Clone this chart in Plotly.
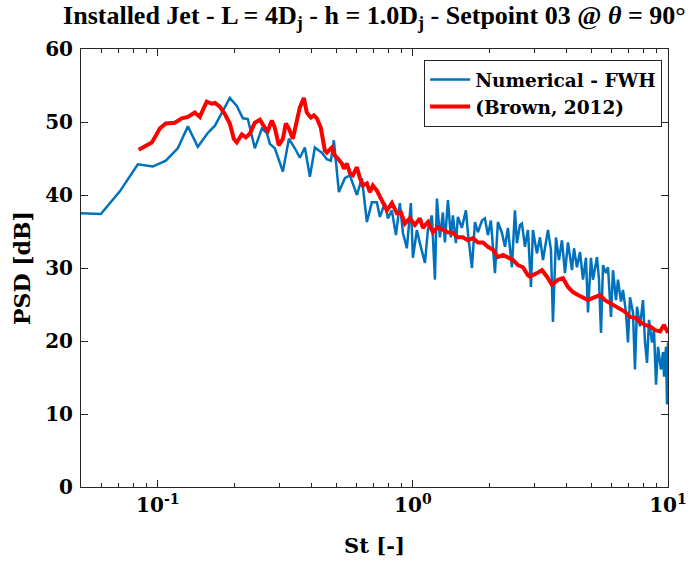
import plotly.graph_objects as go

# Numerical - FWH (blue)
st_num = [0.0499, 0.0598, 0.0710, 0.0835, 0.0956, 0.1075, 0.1198, 0.1312, 0.1435, 0.157,
          0.1675, 0.1916, 0.204, 0.2155, 0.2254, 0.2401, 0.2557, 0.2676, 0.2749, 0.2876,
          0.3093, 0.3265, 0.3446, 0.3605, 0.3772, 0.3946, 0.4128, 0.4396, 0.4600, 0.4769,
          0.4900, 0.5127, 0.5412, 0.5662, 0.6033, 0.6310, 0.6601, 0.6906, 0.7225, 0.7424,
          0.7767, 0.798, 0.827, 0.858, 0.889, 0.914, 0.947, 0.982, 1.0, 1.0368,
          1.0652, 1.1146, 1.145, 1.187, 1.220, 1.242, 1.276, 1.311, 1.335, 1.372,
          1.409, 1.435, 1.474, 1.501, 1.556, 1.614, 1.643, 1.704, 1.751, 1.798,
          1.865, 1.916, 1.968, 2.022, 2.097, 2.154, 2.234, 2.296, 2.358, 2.444,
          2.512, 2.557, 2.628, 2.676, 2.749, 2.825, 2.902, 2.955, 3.063, 3.148,
          3.235, 3.294, 3.384, 3.477, 3.540, 3.638, 3.738, 3.840, 3.946, 4.054,
          4.203, 4.280, 4.397, 4.518, 4.642, 4.769, 4.857, 4.989, 5.081, 5.268,
          5.364, 5.462, 5.562, 5.714, 5.818, 5.977, 6.086, 6.253, 6.367, 6.542,
          6.661, 6.843, 6.968, 7.096, 7.290, 7.423, 7.559, 7.766, 7.980, 8.125,
          8.274, 8.425, 8.656, 8.814, 8.975, 9.138, 9.387, 9.559, 9.645, 9.821,
          9.910, 10.0]
psd_num = [37.5, 37.4, 40.5, 44.2, 43.9, 44.7, 46.4, 49.4, 46.6, 48.5,
           49.5, 53.3, 52.2, 50.5, 50.4, 46.4, 49.1, 48.5, 47.0, 46.4,
           43.2, 47.7, 46.4, 45.1, 46.5, 42.5, 46.5, 45.8, 44.9, 44.7,
           47.5, 40.4, 42.3, 42.7, 40.0, 42.3, 36.3, 39.0, 39.0, 37.0,
           38.9, 36.8, 37.9, 34.5, 38.9, 34.8, 32.7, 38.9, 31.4, 35.2,
           33.4, 30.7, 35.2, 37.2, 28.4, 39.5, 34.2, 37.6, 33.5, 39.3,
           34.2, 37.2, 33.4, 37.0, 35.5, 37.9, 34.8, 30.0, 36.3, 34.9,
           36.5, 36.8, 34.5, 36.5, 29.3, 36.3, 34.8, 32.9, 35.5, 30.1,
           37.9, 33.4, 35.9, 36.1, 32.9, 35.2, 27.4, 35.2, 32.0, 34.2,
           31.1, 32.9, 35.2, 32.5, 22.6, 34.2, 31.1, 33.8, 29.3, 33.5,
           29.7, 32.7, 30.1, 32.2, 28.4, 31.4, 23.9, 31.4, 28.4, 31.5,
           28.4, 21.1, 30.4, 29.3, 30.1, 23.3, 29.7, 25.6, 28.4, 25.4,
           27.0, 23.9, 19.8, 26.0, 23.9, 16.1, 24.7, 22.0, 25.6, 19.8,
           17.0, 22.9, 19.8, 21.5, 14.0, 19.2, 16.1, 18.5, 15.1, 19.2,
           11.3, 19.8]

# (Brown, 2012) (red)
st_exp = [0.0842, 0.0889, 0.0947, 0.0982, 0.1018, 0.1075, 0.1166, 0.1242, 0.1312, 0.1397,
          0.1461, 0.1528, 0.1556, 0.1628, 0.1675, 0.175, 0.1831, 0.1916, 0.1986, 0.204,
          0.2135, 0.2214, 0.2295, 0.2401, 0.2512, 0.2628, 0.2700, 0.2799, 0.2876, 0.2981,
          0.3093, 0.3177, 0.3265, 0.3384, 0.3508, 0.3605, 0.3736, 0.3839, 0.3981, 0.4091,
          0.4203, 0.4356, 0.4517, 0.4600, 0.4812, 0.4944, 0.5080, 0.5267, 0.5363, 0.5510,
          0.5662, 0.5817, 0.6033, 0.6197, 0.6368, 0.6601, 0.6783, 0.6969, 0.7225, 0.7424,
          0.7628, 0.7908, 0.8273, 0.8656, 0.8974, 0.9303, 0.9732, 1.018, 1.0652, 1.0944,
          1.145, 1.198, 1.253, 1.311, 1.372, 1.435, 1.501, 1.570, 1.643, 1.719,
          1.798, 1.882, 1.968, 2.059, 2.154, 2.254, 2.358, 2.467, 2.581, 2.700,
          2.825, 2.877, 3.063, 3.206, 3.354, 3.509, 3.704, 3.874, 4.054, 4.241,
          4.437, 4.642, 4.857, 5.081, 5.412, 5.662, 5.923, 6.197, 6.483, 6.783,
          7.096, 7.423, 7.766, 8.125, 8.501, 8.894, 9.303, 9.645, 10.0]
psd_exp = [46.2, 46.6, 47.2, 48.1, 49.1, 49.8, 49.9, 50.5, 50.7, 51.3,
           50.7, 52.2, 52.8, 52.5, 52.6, 52.1, 51.1, 49.8, 47.7, 47.2,
           48.3, 47.9, 48.4, 49.9, 50.3, 49.2, 48.8, 50.2, 49.2, 46.8,
           47.7, 49.8, 49.1, 47.7, 49.9, 52.0, 53.3, 51.3, 50.6, 50.9,
           50.5, 49.2, 46.1, 45.8, 46.5, 45.4, 45.0, 44.3, 43.6, 44.3,
           43.0, 42.7, 43.8, 42.3, 41.3, 41.6, 40.4, 41.3, 40.6, 39.7,
           39.0, 37.9, 38.9, 37.5, 37.6, 36.1, 36.8, 35.9, 36.8, 35.5,
           36.3, 34.9, 35.6, 35.2, 34.9, 34.8, 34.2, 34.2, 33.8, 34.1,
           33.5, 33.5, 32.9, 32.5, 31.5, 31.8, 31.4, 31.1, 30.4, 30.1,
           29.0, 28.8, 29.3, 29.7, 28.8, 27.7, 28.4, 28.6, 27.4, 26.7,
           26.3, 25.9, 25.6, 25.9, 26.3, 25.6, 25.2, 24.8, 24.3, 24.0,
           23.3, 23.2, 22.6, 22.2, 22.0, 21.5, 21.3, 22.2, 21.1]

x_tickvals = [0.1, 1, 10]
x_ticktext = ["<b>10<sup>-1</sup></b>", "<b>10<sup>0</sup></b>", "<b>10<sup>1</sup></b>"]
x_minor = [0.06, 0.07, 0.08, 0.09, 0.2, 0.3, 0.4, 0.5, 0.6, 0.7, 0.8, 0.9,
           2, 3, 4, 5, 6, 7, 8, 9]
y_tickvals = [0, 10, 20, 30, 40, 50, 60]

FONT = "DejaVu Serif"
AXC = "#262626"

fig = go.Figure()
fig.add_trace(go.Scatter(x=st_num, y=psd_num, mode="lines", name="<b>Numerical - FWH</b>",
                         line=dict(color="#0072BD", width=2.5)))
fig.add_trace(go.Scatter(x=st_exp, y=psd_exp, mode="lines", name="<b>(Brown, 2012)</b>",
                         line=dict(color="#FF0000", width=4)))

fig.update_layout(
    width=690, height=566,
    margin=dict(l=81, r=22, t=49, b=79, autoexpand=False),
    paper_bgcolor="white", plot_bgcolor="white",
    font=dict(family=FONT, color="#000000"),
    title=dict(text="<b>Installed Jet - L = 4D<sub>j</sub> - h = 1.0D<sub>j</sub> - Setpoint 03 @ <i>θ</i> = 90°</b>",
               x=0.5425, xanchor="center", xref="container",
               y=0.99, yanchor="top", yref="container",
               font=dict(family="Liberation Serif", size=26, color="#000000")),
    showlegend=True,
    legend=dict(x=0.99, xanchor="right", y=0.975, yanchor="top",
                bordercolor=AXC, borderwidth=1, bgcolor="white",
                font=dict(family=FONT, size=18.5, color="#000000"),
                tracegroupgap=0, itemwidth=40),
)
fig.update_xaxes(type="log", range=[-1.30103, 1], automargin=False,
                 tickvals=x_tickvals, ticktext=x_ticktext,
                 ticks="inside", ticklen=7, tickcolor=AXC,
                 minor=dict(tickvals=x_minor, ticks="inside", ticklen=4, tickcolor=AXC, showgrid=False),
                 showline=True, linecolor=AXC, linewidth=1, mirror="allticks",
                 showgrid=False, zeroline=False,
                 tickfont=dict(family=FONT, size=20, color="#000000"),
                 title=dict(text="<b>St [-]</b>", font=dict(family=FONT, size=21), standoff=22))
fig.update_yaxes(range=[0, 60], tickvals=y_tickvals, automargin=False,
                 ticktext=[f"<b>{v}</b>" for v in y_tickvals],
                 ticks="inside", ticklen=7, tickcolor=AXC, ticklabelstandoff=3,
                 showline=True, linecolor=AXC, linewidth=1, mirror="allticks",
                 showgrid=False, zeroline=False,
                 tickfont=dict(family=FONT, size=20, color="#000000"),
                 title=dict(text="<b>PSD [dB]</b>", font=dict(family=FONT, size=22), standoff=8))

fig.write_html("out.html", config={"displayModeBar": False},
               post_script="document.body.style.margin='0px';")
